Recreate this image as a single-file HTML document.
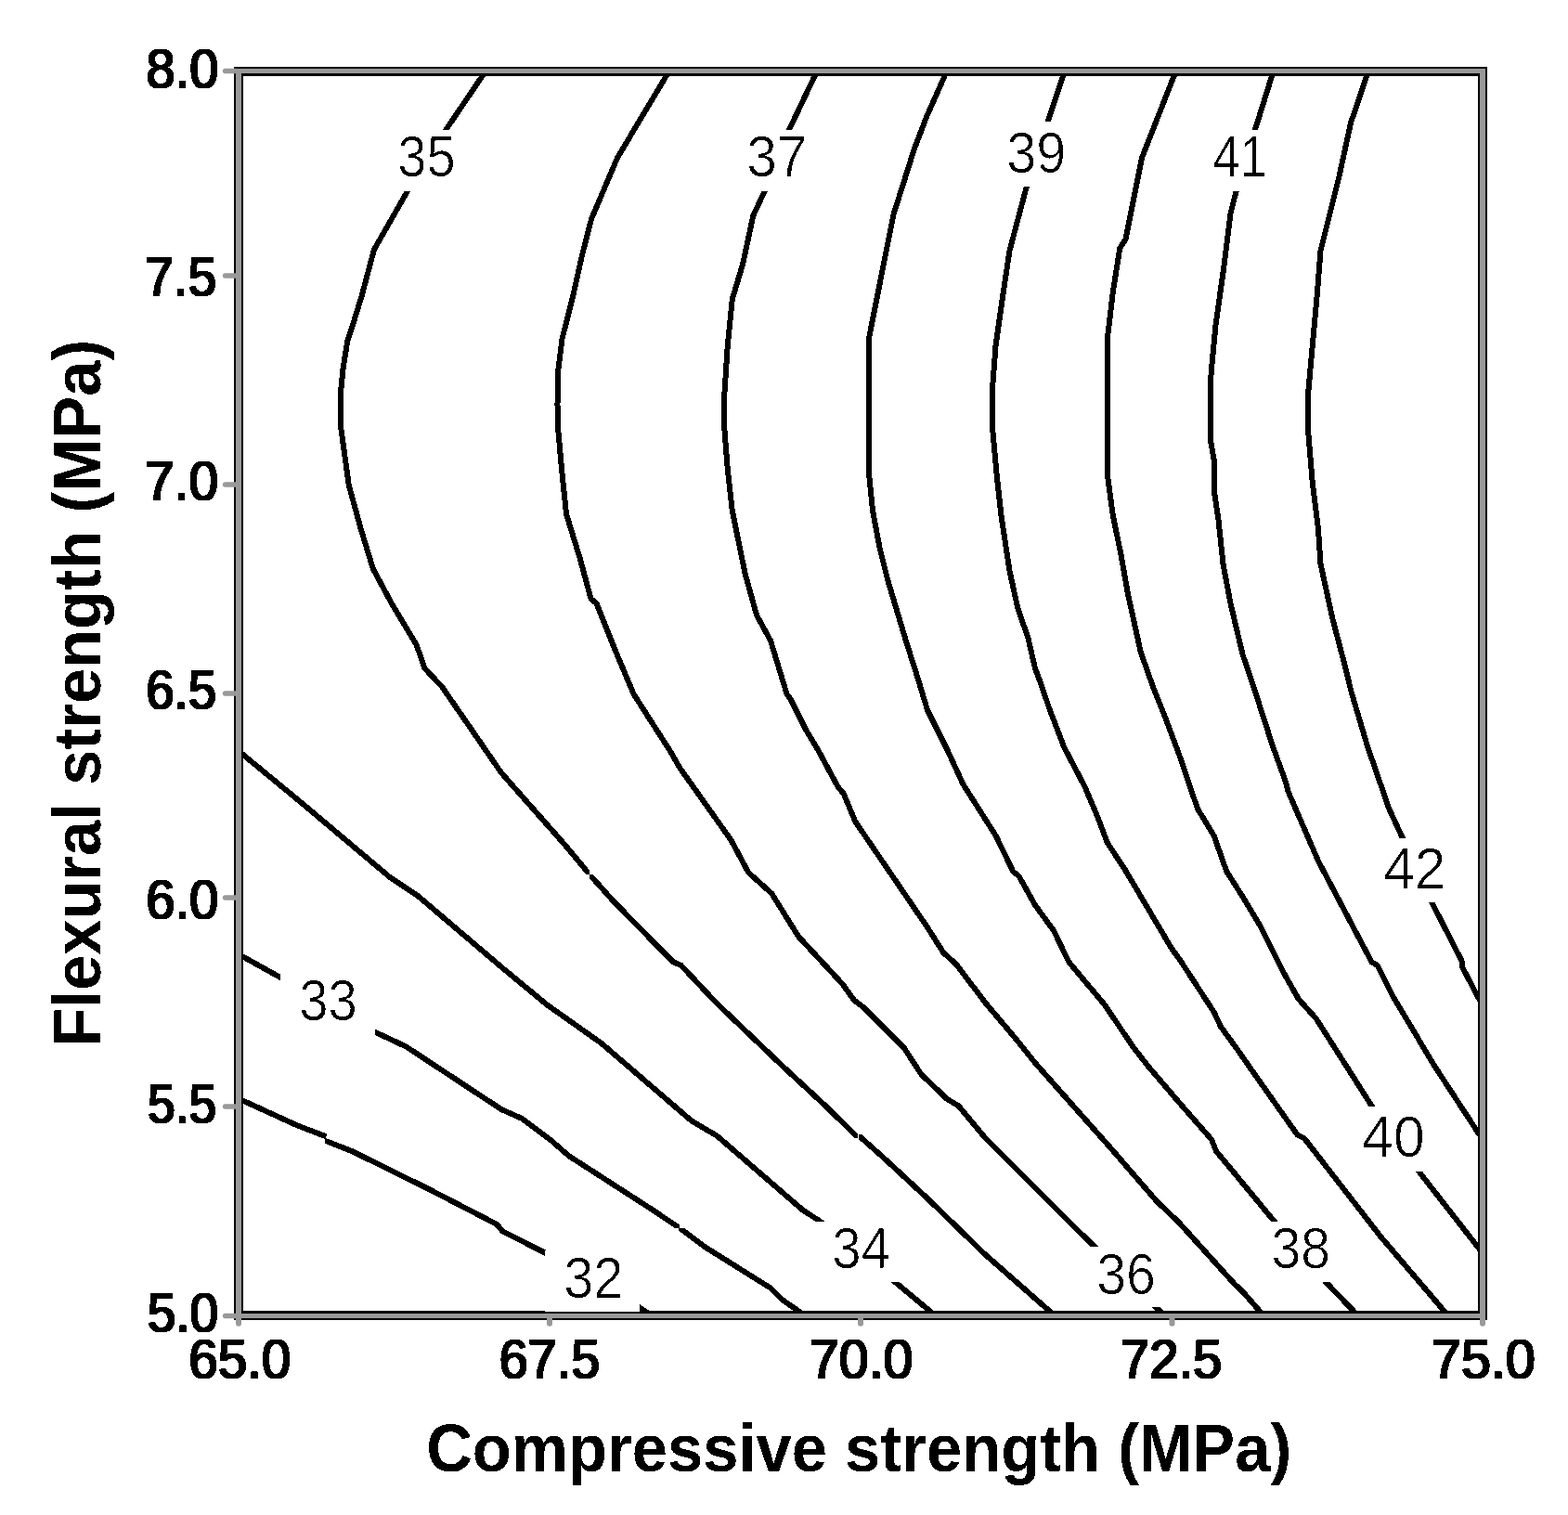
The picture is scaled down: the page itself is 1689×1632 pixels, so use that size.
<!DOCTYPE html>
<html lang="en"><head><meta charset="utf-8"><title>Contour plot: Flexural strength vs Compressive strength</title>
<style>html,body{margin:0;padding:0;background:#fff;overflow:hidden}svg{display:block}text{font-family:"Liberation Sans",sans-serif;fill:#000;font-kerning:none}.c{fill:none;stroke:#000;stroke-width:6;stroke-linejoin:miter;stroke-linecap:butt;shape-rendering:crispEdges}.f{shape-rendering:crispEdges}.t{font-size:59.4px;stroke:#000;stroke-width:0.2}.l{font-size:62.3px;stroke:#fff;stroke-width:0.7}.a{font-size:71.5px;font-weight:bold}</style></head><body>
<svg width="1689" height="1632" viewBox="0 0 1689 1632">
<defs><filter id="hard" x="-5%" y="-20%" width="110%" height="140%" color-interpolation-filters="sRGB"><feColorMatrix type="matrix" values="0 0 0 0 0  0 0 0 0 0  0 0 0 0 0  -0.3333 -0.3333 -0.3333 1 0"/><feComponentTransfer><feFuncA type="discrete" tableValues="0 1"/></feComponentTransfer></filter><filter id="hardw" x="-5%" y="-20%" width="110%" height="140%" color-interpolation-filters="sRGB"><feComponentTransfer><feFuncA type="discrete" tableValues="0 1"/></feComponentTransfer><feMorphology operator="dilate" radius="1 0" result="h"/><feOffset in="h" dy="-1" result="v"/><feMerge><feMergeNode in="h"/><feMergeNode in="v"/></feMerge></filter></defs>
<rect width="1689" height="1632" fill="#fff"/>
<g class="c">
<polyline points="257,1183.5 320,1212.3 351.5,1224.4"/>
<polyline points="350,1228.6 380,1240.5 460,1280 535,1318.75 541.25,1326.25 587,1349.6 689.1,1408.6 699.3,1415.6 702,1417.5"/>
<polyline points="257,1028 301.25,1052.5 404.5,1112 437.5,1127.5 540,1195 562.5,1205 592.5,1227.5 612.5,1245 700,1301.4 731.5,1322.5 760,1343.7 830,1387.5 842.5,1400 861.25,1413 866,1417"/>
<polyline points="257,809 325,865 420,945 450,965 542.5,1043.75 590,1083 600,1090 648,1124 745,1207.5 772.5,1223.75 865,1303.75 882.5,1315 965,1381.75 1002.5,1413 1007,1417"/>
<polyline points="523,77 519.5,82 480.5,139.5 438.75,206.25 403,268.75 390,317.5 380,350 374.25,367.5 369.5,397.5 366.75,425 366.75,457.5 375.75,522.5 388.75,570 401.75,612.5 422.5,651.25 448.75,695 457.5,720 476.25,740 540,832.5 608.9,910.5 635,942 660.5,970.5 725,1036.25 733.75,1040 771.25,1080 842.5,1148 890,1192 925,1226.3"/>
<polyline points="924,1222.4 950,1245.5 998,1290 1061,1351.2 1131.25,1413 1135.5,1417"/>
<polyline points="720.5,77 717.5,82 665,170 637,236 627,275 617,320 605.5,365 601.5,397.5 600.5,435 600.75,457.5 605,505 610,553.75 625,602.5 636.5,645 642.5,650 662.5,700 682.5,747.5 700,775 721.25,808 732.5,827.5 787.5,905 806.25,940 831.25,962.5 860,1008.75 907.5,1060 920,1077.5 930,1085 973.75,1128.75 992.5,1157.5 1020,1183.75 1032.5,1191.25 1061,1225.5 1178.6,1342.8 1244.5,1408 1250,1413 1254,1417"/>
<polyline points="880,77 877.5,82 850,139.9 823.7,205.8 811.25,232.5 800,285 788.75,322.5 783.75,372.5 780.5,422.5 780,457.5 783.75,505 788.75,550 802.5,617.5 815,662.5 830,690 847.5,747.5 851.25,752.5 867.5,785 881.25,808 902.5,847.5 908.75,855 921.25,885 998,997.5 1016.25,1026.25 1030,1038.75 1061.25,1080 1095,1120 1115,1145 1197.7,1238.2 1246,1294 1270,1317 1329,1382.3 1340,1393 1357.5,1413 1361,1417"/>
<polyline points="1019.5,77 1017.5,82 998,126 985,160 962.5,231 952.5,281 936,364.5 936,510 940,550 947.5,590 956.25,625 975,687.5 990,735 999,765 1020.5,808 1037.5,845 1072.5,900 1091.25,938.75 1097.5,943.75 1115,975 1135,1002.5 1151.25,1036.25 1190,1082.5 1220,1127 1236.25,1148 1270,1187.5 1305,1227.5 1310,1240 1372.5,1315.5 1428.75,1381.75 1458.75,1413 1462.5,1417"/>
<polyline points="1146.5,77 1145,82 1128.75,130.5 1105.75,201.25 1087.5,270 1080,320 1072.5,372.5 1068.75,422.5 1068.75,457.5 1073.75,512.5 1078.75,557.5 1087.5,615 1096.25,655 1107.5,687.5 1115,720 1122.5,740 1130,762.5 1146.25,805 1168.5,847.5 1182.7,881 1192.7,907.7 1211.8,936.8 1262.5,1022.5 1270,1032.5 1307.5,1090 1315,1106 1332.5,1130 1345,1148 1397.5,1222.5 1405,1226.25 1487.5,1332.5 1556.25,1413 1559.5,1417"/>
<polyline points="1266.5,77 1264.5,82 1230,170 1212.5,257.5 1206.25,267.5 1198.75,315 1193,363.75 1193,512.5 1198.75,555 1207.5,597.5 1215,640 1228.75,702.5 1242,740 1255,772.5 1270,812.5 1290,871.25 1307.5,900 1321.25,938.75 1338,965 1357.5,997.5 1382.5,1047.5 1398.75,1076.25 1417.5,1097 1450,1148 1477.5,1191.25 1528.75,1262.5 1591.25,1342.5 1597,1350"/>
<polyline points="1371.5,77 1370,82 1352,139.5 1331.5,206.25 1325.5,230 1318,290 1309.5,350 1305,397.5 1303.5,418 1303.5,471.7 1308.2,498.3 1308.5,533.3 1312.5,560 1317.5,607.5 1325.5,650 1338.5,705 1352,745 1371,804 1385,842.5 1387.5,852.5 1420,927.5 1477.5,1036.25 1483.75,1040 1500,1072.5 1545,1148 1591.25,1218.75 1597,1227"/>
<polyline points="1473.5,77 1472,82 1455,132.5 1442.5,190 1430,240 1422.5,270 1418.75,317.5 1413.75,372.5 1409.25,422.5 1408.75,460 1413.75,520 1420,570 1422.5,607.5 1435,665 1447.5,712.5 1455.5,745 1473,804 1496.25,871.25 1510.5,902 1542.5,972.5 1574.5,1035 1575.5,1042.5 1591.25,1072.5 1597,1083"/>
</g>
<g class="f" fill="#fff">
<rect x="407" y="139.9" width="104" height="65.9"/>
<rect x="783" y="139.9" width="106" height="65.9"/>
<rect x="1063" y="130.9" width="105" height="69.9"/>
<rect x="1284" y="139.9" width="103" height="65.9"/>
<rect x="1468" y="902.9" width="109" height="69.1"/>
<rect x="302" y="1047.5" width="102.1" height="68.5"/>
<rect x="587" y="1346.5" width="102.1" height="66.5"/>
<rect x="875" y="1315.7" width="105" height="65.5"/>
<rect x="1160" y="1342.8" width="105" height="65.3"/>
<rect x="1348" y="1315.7" width="105" height="65.5"/>
<rect x="1445" y="1191.8" width="110" height="70.2"/>
<rect x="635" y="936" width="6" height="6"/>
<rect x="629" y="942" width="6" height="6"/>
<rect x="352" y="1219" width="8" height="7.5"/>
<rect x="342" y="1226.5" width="8" height="8"/>
<rect x="732" y="1315" width="7" height="8"/>
<rect x="724" y="1323" width="7" height="8"/>
<rect x="924" y="1214" width="1" height="20"/>
<rect x="917" y="1226" width="7" height="7"/>
<rect x="925" y="1215" width="7" height="7"/>
</g>
<g class="f" fill-rule="evenodd">
<path fill="#000" d="M252 72H1602V1422H252ZM262 82V1412H1592V82Z"/>
<path fill="#999" d="M254 74H1600V1420H254ZM260 79V1415H1594V79Z"/>
</g>
<rect class="f" x="587" y="1412" width="102" height="1" fill="#fff"/>
<g fill="#999">
<path d="M254 73.75H242.6a2.75 2.75 0 0 0 0 5.5H254Z"/>
<path d="M254 294.25H242.6a2.75 2.75 0 0 0 0 5.5H254Z"/>
<path d="M254 519.25H242.6a2.75 2.75 0 0 0 0 5.5H254Z"/>
<path d="M254 744.25H242.6a2.75 2.75 0 0 0 0 5.5H254Z"/>
<path d="M254 964.25H242.6a2.75 2.75 0 0 0 0 5.5H254Z"/>
<path d="M254 1189.25H242.6a2.75 2.75 0 0 0 0 5.5H254Z"/>
<path d="M254 1414.75H242.6a2.75 2.75 0 0 0 0 5.5H254Z"/>
<path d="M254 1420V1425.8a3 3 0 0 0 6 0V1420Z"/>
<path d="M589 1420V1425.8a3 3 0 0 0 6 0V1420Z"/>
<path d="M924 1420V1425.8a3 3 0 0 0 6 0V1420Z"/>
<path d="M1259.5 1420V1425.8a3 3 0 0 0 6 0V1420Z"/>
<path d="M1594 1420V1425.8a3 3 0 0 0 6 0V1420Z"/>
</g>
<g class="t" filter="url(#hardw)">
<text transform="translate(157.46,94.6) scale(0.9426,1)">8.0</text>
<text transform="translate(156.15,319.2) scale(0.9335,1)">7.5</text>
<text transform="translate(156.07,539.2) scale(0.9598,1)">7.0</text>
<text transform="translate(157.22,764.2) scale(0.9202,1)">6.5</text>
<text transform="translate(157.14,989.6) scale(0.9466,1)">6.0</text>
<text transform="translate(158.95,1210.3) scale(0.8986,1)">5.5</text>
<text transform="translate(158.69,1434.5) scale(0.9273,1)">5.0</text>
<text transform="translate(203.22,1485.2) scale(0.9523,1)">65.0</text>
<text transform="translate(537.87,1485.2) scale(0.9375,1)">67.5</text>
<text transform="translate(871.91,1485.2) scale(0.9647,1)">70.0</text>
<text transform="translate(1207.02,1485.2) scale(0.945,1)">72.5</text>
<text transform="translate(1541.95,1485.2) scale(0.967,1)">75.0</text>
</g>
<g class="l" filter="url(#hard)">
<text transform="translate(428.35,190.35) scale(0.9008,1)">35</text>
<text transform="translate(804.24,190.35) scale(0.9415,1)">37</text>
<text transform="translate(1084.28,186.45) scale(0.9246,1)">39</text>
<text transform="translate(1306.4,190.35) scale(0.8452,1)">41</text>
<text transform="translate(1490.17,957.35) scale(0.9714,1)">42</text>
<text transform="translate(322.34,1099.45) scale(0.9026,1)">33</text>
<text transform="translate(607.28,1398.45) scale(0.9257,1)">32</text>
<text transform="translate(896.34,1366.45) scale(0.9037,1)">34</text>
<text transform="translate(1181.3,1393.65) scale(0.9183,1)">36</text>
<text transform="translate(1369.41,1366.45) scale(0.9163,1)">38</text>
<text transform="translate(1467.06,1246.25) scale(0.9779,1)">40</text>
</g>
<text class="a" filter="url(#hard)" transform="translate(459.18,1584.6) scale(0.9618,1)">Compressive strength (MPa)</text>
<text class="a" filter="url(#hard)" transform="translate(108.2,1127.69) rotate(-90) scale(0.9591,1)">Flexural strength (MPa)</text>
</svg></body></html>
